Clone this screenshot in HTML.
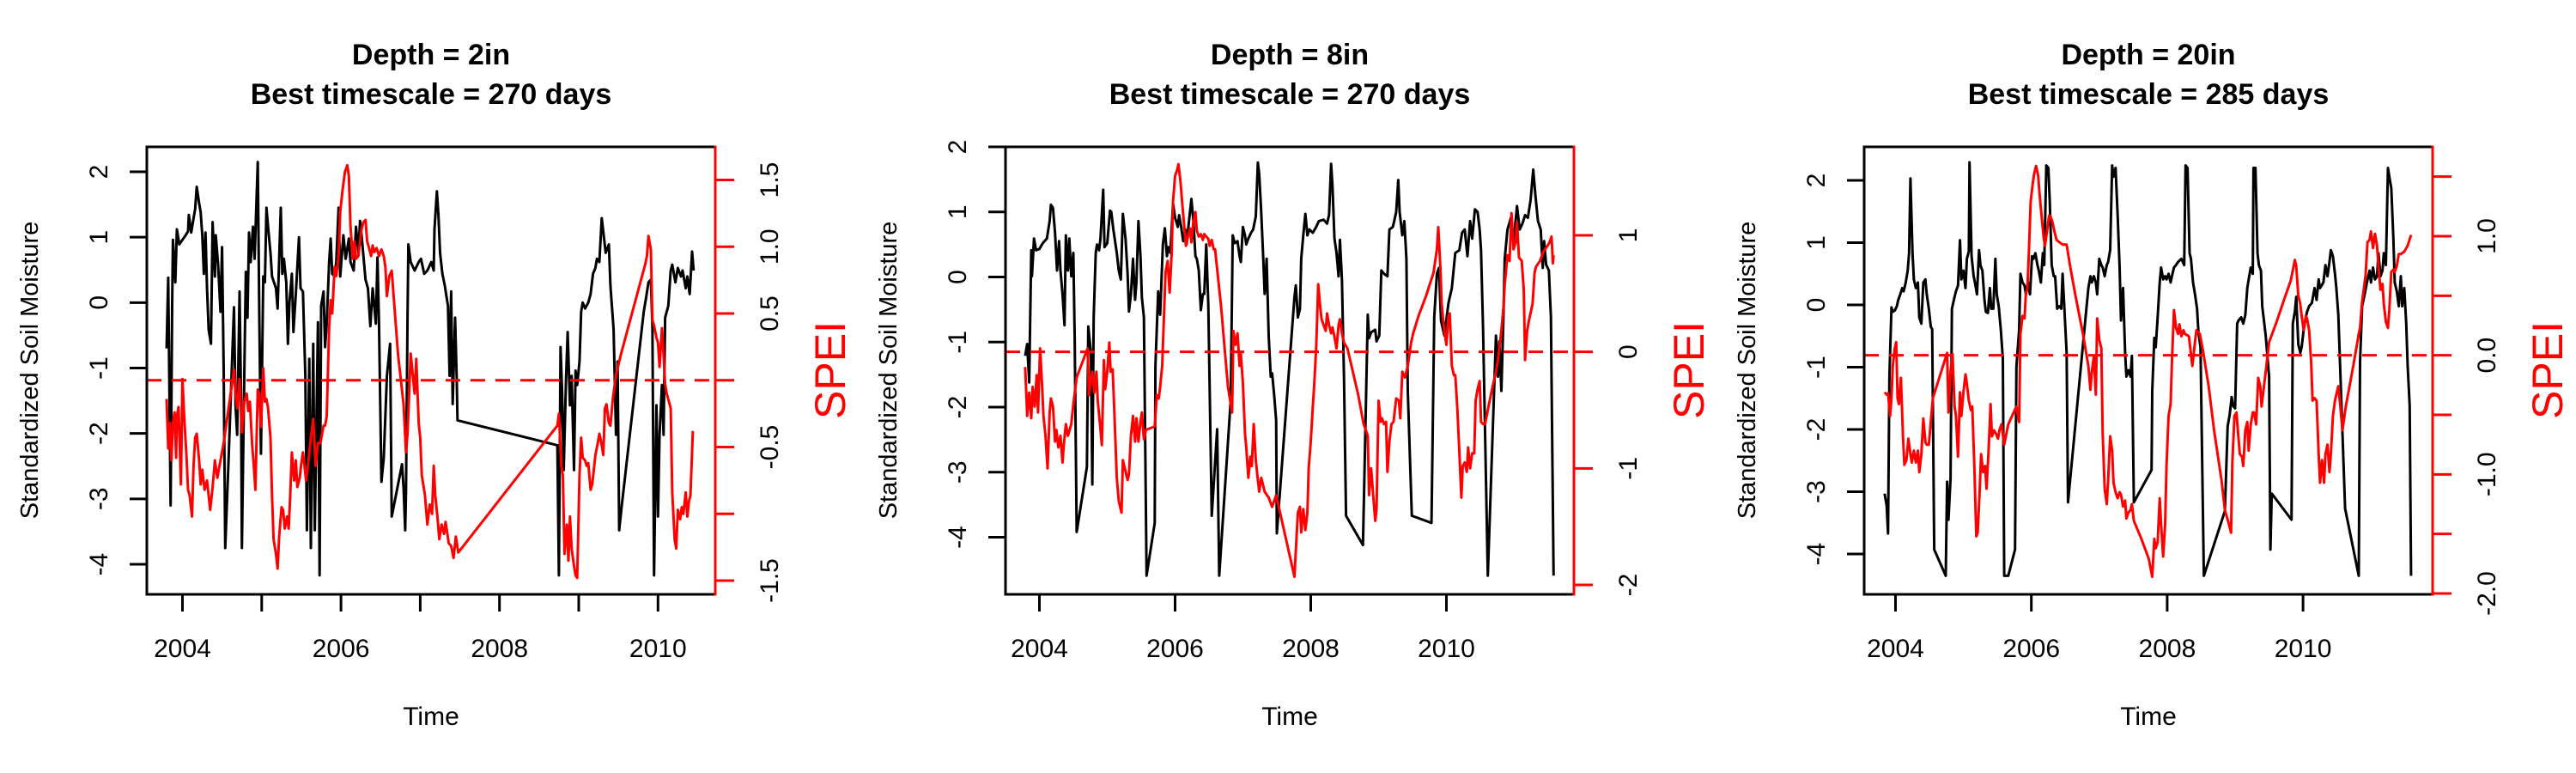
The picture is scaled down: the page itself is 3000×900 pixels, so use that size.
<!DOCTYPE html>
<html><head><meta charset="utf-8">
<style>
html,body{margin:0;padding:0;background:#fff;}
svg{display:block;}
text{font-family:"Liberation Sans",Arial,sans-serif;}
</style></head>
<body>
<svg id="chart" xmlns="http://www.w3.org/2000/svg" width="3000" height="900" viewBox="0 0 3000 900">
<rect x="0" y="0" width="3000" height="900" fill="#fff"/>
</svg>
<script>
// ---------- Data (decimal year, value) ----------
const panelTitles = ["Depth = 2in", "Depth = 8in", "Depth = 20in"];
const panelTimescales = ["Best timescale = 270 days", "Best timescale = 270 days", "Best timescale = 285 days"];
const soilTicks = [-4, -3, -2, -1, 0, 1, 2];
const yearTickLabels = [2004, 2006, 2008, 2010];
const yearTicksP1 = [2004, 2005, 2006, 2007, 2008, 2009, 2010];
const yearTicksP23 = [2004, 2006, 2008, 2010];
const speiTicksP1 = [-1.5, -1, -0.5, 0, 0.5, 1, 1.5];
const speiLabelsP1 = [[-1.5,"-1.5"],[-0.5,"-0.5"],[0.5,"0.5"],[1,"1.0"],[1.5,"1.5"]];
const speiTicksP2 = [-2, -1, 0, 1];
const speiLabelsP2 = [[-2,"-2"],[-1,"-1"],[0,"0"],[1,"1"]];
const speiTicksP3 = [-2, -1.5, -1, -0.5, 0, 0.5, 1, 1.5];
const speiLabelsP3 = [[-2,"-2.0"],[-1,"-1.0"],[0,"0.0"],[1,"1.0"]];

const soil2in = [[2003.80,-0.70],[2003.82,0.38],[2003.85,-3.10],[2003.87,-0.05],[2003.88,0.96],[2003.91,0.31],[2003.93,1.12],[2003.96,0.89],[2004.00,0.96],[2004.04,1.03],[2004.07,1.09],[2004.08,1.34],[2004.11,1.07],[2004.14,1.29],[2004.16,1.43],[2004.18,1.77],[2004.21,1.52],[2004.23,1.38],[2004.25,1.03],[2004.27,0.44],[2004.29,1.07],[2004.31,0.22],[2004.33,-0.41],[2004.36,-0.63],[2004.38,1.23],[2004.41,0.40],[2004.42,1.03],[2004.45,0.58],[2004.48,-0.14],[2004.50,0.85],[2004.52,-1.04],[2004.54,-3.75],[2004.58,-2.47],[2004.65,-0.07],[2004.67,-1.57],[2004.69,-2.02],[2004.72,0.17],[2004.74,-1.57],[2004.75,-3.75],[2004.78,-1.12],[2004.80,0.47],[2004.82,-0.23],[2004.84,1.07],[2004.86,0.62],[2004.89,1.16],[2004.91,0.67],[2004.95,2.15],[2004.97,-0.23],[2004.99,-2.31],[2005.02,0.40],[2005.04,0.31],[2005.06,1.45],[2005.08,1.16],[2005.11,0.76],[2005.13,0.40],[2005.18,0.22],[2005.20,-0.09],[2005.24,1.45],[2005.26,0.44],[2005.28,0.67],[2005.31,0.31],[2005.33,-0.63],[2005.35,0.00],[2005.38,0.44],[2005.40,-0.45],[2005.43,0.13],[2005.47,1.00],[2005.49,0.22],[2005.52,0.17],[2005.55,-1.12],[2005.57,-3.48],[2005.60,-0.86],[2005.62,-3.75],[2005.65,-0.63],[2005.67,-3.48],[2005.71,-0.30],[2005.73,-4.17],[2005.75,-0.05],[2005.78,0.17],[2005.80,-0.68],[2005.82,-0.32],[2005.85,0.62],[2005.87,0.98],[2005.89,0.44],[2005.92,0.40],[2005.94,0.62],[2005.97,1.45],[2005.99,0.40],[2006.03,1.03],[2006.06,0.67],[2006.10,0.98],[2006.12,0.62],[2006.16,0.49],[2006.19,1.16],[2006.22,0.76],[2006.24,1.25],[2006.26,1.03],[2006.28,0.76],[2006.31,0.35],[2006.34,0.22],[2006.37,-0.36],[2006.40,0.22],[2006.44,-0.32],[2006.46,0.69],[2006.48,-0.32],[2006.51,-2.74],[2006.54,-2.38],[2006.58,-1.12],[2006.62,-0.63],[2006.64,-3.27],[2006.77,-2.47],[2006.79,-2.83],[2006.81,-3.48],[2006.82,-2.92],[2006.84,-0.23],[2006.85,0.89],[2006.88,0.62],[2006.93,0.49],[2006.98,0.62],[2007.01,0.67],[2007.05,0.44],[2007.09,0.49],[2007.14,0.62],[2007.17,0.49],[2007.18,1.12],[2007.21,1.70],[2007.23,1.34],[2007.25,0.76],[2007.28,0.44],[2007.31,0.26],[2007.35,-0.05],[2007.37,-1.12],[2007.39,0.17],[2007.41,-1.55],[2007.44,-0.23],[2007.46,-1.17],[2007.47,-1.80],[2008.73,-2.18],[2008.75,-4.17],[2008.77,-0.68],[2008.79,-1.35],[2008.81,-2.56],[2008.84,-1.17],[2008.86,-0.45],[2008.89,-1.57],[2008.91,-1.12],[2008.94,-2.56],[2008.96,-1.04],[2008.98,-1.26],[2009.01,-0.90],[2009.03,-0.14],[2009.05,0.00],[2009.08,-0.09],[2009.12,0.00],[2009.15,0.13],[2009.18,0.44],[2009.21,0.53],[2009.23,0.67],[2009.26,0.62],[2009.29,1.29],[2009.32,0.98],[2009.34,0.76],[2009.38,0.89],[2009.40,0.26],[2009.44,-0.41],[2009.47,-2.02],[2009.49,-0.90],[2009.51,-3.48],[2009.54,-3.14],[2009.82,-0.14],[2009.85,0.08],[2009.88,0.31],[2009.91,0.35],[2009.93,-0.36],[2009.95,-4.17],[2009.98,-1.57],[2010.00,-3.27],[2010.02,-2.02],[2010.05,-1.26],[2010.07,-2.02],[2010.09,-0.23],[2010.13,-0.05],[2010.16,0.49],[2010.18,0.58],[2010.22,0.31],[2010.25,0.53],[2010.29,0.40],[2010.31,0.49],[2010.35,0.22],[2010.37,0.40],[2010.40,0.13],[2010.43,0.78],[2010.45,0.49]];

const spei2in = [[2003.80,-0.14],[2003.82,-0.51],[2003.84,-0.32],[2003.86,-0.60],[2003.88,-0.32],[2003.90,-0.24],[2003.92,-0.58],[2003.93,-0.27],[2003.95,-0.20],[2003.98,-0.78],[2004.00,0.01],[2004.02,-0.25],[2004.05,-0.56],[2004.07,-0.82],[2004.09,-0.86],[2004.12,-1.02],[2004.14,-0.64],[2004.16,-0.43],[2004.18,-0.40],[2004.21,-0.60],[2004.23,-0.78],[2004.25,-0.67],[2004.28,-0.82],[2004.31,-0.75],[2004.35,-0.97],[2004.38,-0.80],[2004.41,-0.60],[2004.44,-0.73],[2004.48,-0.60],[2004.52,-0.47],[2004.65,0.08],[2004.67,-0.10],[2004.69,-0.21],[2004.72,0.01],[2004.75,-0.39],[2004.78,-0.16],[2004.81,-0.10],[2004.83,-0.23],[2004.85,-0.16],[2004.88,-0.49],[2004.90,-0.64],[2004.92,-0.82],[2004.95,-0.07],[2004.97,-0.10],[2004.99,-0.35],[2005.02,0.09],[2005.04,-0.16],[2005.06,-0.14],[2005.08,-0.21],[2005.11,-0.43],[2005.13,-0.86],[2005.15,-1.19],[2005.18,-1.30],[2005.20,-1.41],[2005.22,-1.17],[2005.25,-0.95],[2005.27,-0.97],[2005.29,-1.11],[2005.32,-1.02],[2005.34,-1.11],[2005.36,-0.86],[2005.38,-0.54],[2005.41,-0.75],[2005.43,-0.60],[2005.45,-0.80],[2005.48,-0.73],[2005.50,-0.62],[2005.52,-0.54],[2005.56,-0.75],[2005.59,-0.60],[2005.62,-0.43],[2005.65,-0.29],[2005.68,-0.64],[2005.71,-0.47],[2005.74,-0.47],[2005.78,-0.34],[2005.80,-0.34],[2005.82,-0.27],[2005.85,0.39],[2005.87,0.60],[2005.89,0.50],[2005.92,0.85],[2005.94,0.78],[2005.97,0.93],[2005.99,1.26],[2006.02,1.42],[2006.05,1.56],[2006.08,1.61],[2006.10,1.53],[2006.12,1.15],[2006.15,0.91],[2006.17,1.04],[2006.19,0.91],[2006.22,0.93],[2006.24,1.04],[2006.26,1.13],[2006.28,1.18],[2006.31,1.20],[2006.33,1.04],[2006.35,1.00],[2006.38,0.93],[2006.40,1.01],[2006.42,0.96],[2006.45,0.99],[2006.48,0.93],[2006.51,0.98],[2006.54,0.93],[2006.56,0.85],[2006.58,0.63],[2006.61,0.78],[2006.64,0.82],[2006.72,0.19],[2006.79,-0.18],[2006.82,-0.54],[2006.84,-0.40],[2006.86,-0.10],[2006.88,0.20],[2006.91,0.01],[2006.93,-0.10],[2006.95,0.16],[2006.98,-0.32],[2007.00,-0.43],[2007.02,-0.71],[2007.06,-0.86],[2007.09,-1.08],[2007.12,-0.93],[2007.15,-1.00],[2007.17,-0.64],[2007.19,-0.86],[2007.22,-1.04],[2007.24,-1.19],[2007.27,-1.08],[2007.30,-1.15],[2007.32,-1.06],[2007.36,-1.22],[2007.39,-1.24],[2007.42,-1.33],[2007.45,-1.17],[2007.48,-1.29],[2008.73,-0.34],[2008.75,-0.25],[2008.78,-0.64],[2008.80,-0.71],[2008.82,-1.30],[2008.85,-1.08],[2008.87,-1.35],[2008.89,-1.02],[2008.91,-1.26],[2008.94,-1.39],[2008.96,-1.46],[2008.98,-1.48],[2009.01,-0.71],[2009.03,-0.43],[2009.05,-0.58],[2009.08,-0.60],[2009.10,-0.64],[2009.12,-0.62],[2009.15,-0.82],[2009.17,-0.78],[2009.21,-0.56],[2009.24,-0.47],[2009.26,-0.40],[2009.28,-0.45],[2009.31,-0.56],[2009.33,-0.21],[2009.35,-0.18],[2009.38,-0.32],[2009.40,-0.34],[2009.43,-0.14],[2009.47,0.04],[2009.51,0.14],[2009.54,0.21],[2009.84,0.87],[2009.86,0.93],[2009.88,1.08],[2009.91,0.98],[2009.93,0.45],[2009.95,0.41],[2009.98,0.32],[2010.00,0.28],[2010.02,0.10],[2010.05,0.39],[2010.07,0.19],[2010.09,-0.03],[2010.11,-0.10],[2010.16,-0.21],[2010.18,-0.84],[2010.21,-1.19],[2010.23,-1.26],[2010.25,-0.97],[2010.28,-1.04],[2010.30,-0.95],[2010.32,-1.00],[2010.35,-0.84],[2010.37,-1.02],[2010.39,-0.91],[2010.41,-0.86],[2010.44,-0.38]];

const soil8in = [[2003.79,-1.21],[2003.82,-1.03],[2003.85,-1.62],[2003.88,0.41],[2003.89,0.01],[2003.92,0.59],[2003.95,0.41],[2004.00,0.43],[2004.05,0.52],[2004.11,0.59],[2004.15,0.86],[2004.17,1.11],[2004.20,1.06],[2004.23,0.68],[2004.26,0.10],[2004.29,0.55],[2004.31,0.10],[2004.34,-0.26],[2004.37,-0.74],[2004.39,0.64],[2004.42,0.10],[2004.44,0.59],[2004.47,0.01],[2004.50,0.37],[2004.52,-0.96],[2004.55,-3.92],[2004.70,-2.92],[2004.72,-0.76],[2004.76,-1.17],[2004.78,-3.19],[2004.80,-0.62],[2004.83,0.37],[2004.85,0.50],[2004.88,0.41],[2004.90,0.59],[2004.94,1.34],[2004.96,0.46],[2005.00,0.52],[2005.04,1.02],[2005.06,1.00],[2005.09,0.73],[2005.14,0.37],[2005.17,0.10],[2005.20,-0.04],[2005.23,0.97],[2005.27,0.59],[2005.30,0.05],[2005.32,-0.53],[2005.35,-0.26],[2005.38,0.28],[2005.41,-0.35],[2005.43,-0.08],[2005.46,0.86],[2005.49,0.32],[2005.51,-0.31],[2005.54,-0.62],[2005.58,-4.59],[2005.70,-3.78],[2005.71,-1.37],[2005.75,-0.22],[2005.78,-0.58],[2005.82,0.50],[2005.85,0.75],[2005.88,0.32],[2005.90,0.46],[2005.93,0.37],[2005.97,1.13],[2006.00,0.91],[2006.04,0.77],[2006.06,0.95],[2006.09,0.77],[2006.12,0.55],[2006.15,0.73],[2006.17,0.50],[2006.21,0.91],[2006.24,1.20],[2006.27,0.86],[2006.30,0.32],[2006.32,0.28],[2006.35,0.10],[2006.38,-0.51],[2006.41,-0.26],[2006.43,-0.26],[2006.46,0.50],[2006.49,-0.44],[2006.54,-3.67],[2006.62,-2.34],[2006.65,-4.59],[2006.82,-1.89],[2006.85,0.64],[2006.88,0.52],[2006.92,0.55],[2006.95,0.32],[2006.97,0.23],[2007.00,0.77],[2007.03,0.64],[2007.05,0.50],[2007.08,0.59],[2007.12,0.68],[2007.15,0.73],[2007.19,0.93],[2007.22,1.76],[2007.24,1.58],[2007.27,1.00],[2007.30,0.28],[2007.32,-0.26],[2007.35,0.28],[2007.38,-0.90],[2007.41,-1.53],[2007.43,-1.48],[2007.46,-1.80],[2007.49,-2.20],[2007.50,-3.94],[2007.76,-0.31],[2007.78,-0.13],[2007.81,-0.62],[2007.84,-0.49],[2007.86,0.28],[2007.89,0.64],[2007.92,0.97],[2007.95,0.64],[2007.98,0.73],[2008.03,0.68],[2008.08,0.77],[2008.12,0.86],[2008.19,0.88],[2008.24,0.82],[2008.27,0.95],[2008.30,1.74],[2008.32,1.40],[2008.35,0.59],[2008.38,0.37],[2008.41,0.01],[2008.43,0.57],[2008.46,-0.04],[2008.49,-1.53],[2008.52,-3.67],[2008.77,-4.12],[2008.84,-0.58],[2008.86,-0.94],[2008.89,-0.85],[2008.95,-0.81],[2008.97,-0.99],[2009.01,-0.90],[2009.04,0.10],[2009.08,0.05],[2009.13,0.01],[2009.16,0.73],[2009.21,0.77],[2009.23,0.86],[2009.26,1.00],[2009.29,1.49],[2009.31,1.00],[2009.35,0.64],[2009.38,0.86],[2009.41,0.28],[2009.43,-1.75],[2009.49,-3.67],[2009.78,-3.78],[2009.82,-0.62],[2009.86,0.05],[2009.89,0.14],[2009.92,-0.67],[2009.97,-0.90],[2010.03,-0.40],[2010.08,-0.17],[2010.13,0.37],[2010.19,0.41],[2010.23,0.68],[2010.27,0.73],[2010.31,0.32],[2010.35,0.86],[2010.38,0.59],[2010.42,1.04],[2010.46,1.00],[2010.49,0.73],[2010.51,0.41],[2010.54,-0.81],[2010.61,-4.59],[2010.73,-0.90],[2010.76,-1.53],[2010.78,-0.99],[2010.81,-1.75],[2010.84,-0.62],[2010.86,0.28],[2010.90,0.73],[2010.95,0.91],[2010.99,0.55],[2011.04,1.09],[2011.08,0.73],[2011.12,0.82],[2011.16,0.95],[2011.20,0.91],[2011.24,1.18],[2011.28,1.65],[2011.31,1.27],[2011.35,0.86],[2011.39,0.73],[2011.42,0.14],[2011.44,0.55],[2011.47,0.19],[2011.51,0.10],[2011.54,-0.62],[2011.58,-4.59]];

const spei8in = [[2003.79,-0.13],[2003.82,-0.55],[2003.85,-0.35],[2003.88,-0.57],[2003.90,-0.30],[2003.93,-0.47],[2003.96,-0.20],[2003.98,-0.52],[2004.01,0.03],[2004.04,-0.30],[2004.06,-0.55],[2004.09,-0.72],[2004.12,-1.00],[2004.15,-0.52],[2004.17,-0.40],[2004.20,-0.47],[2004.23,-0.77],[2004.25,-0.67],[2004.28,-0.82],[2004.31,-0.72],[2004.34,-0.95],[2004.36,-0.80],[2004.39,-0.62],[2004.42,-0.72],[2004.47,-0.62],[2004.50,-0.45],[2004.55,-0.22],[2004.71,0.03],[2004.73,-0.37],[2004.76,-0.25],[2004.78,-0.17],[2004.81,-0.35],[2004.84,-0.17],[2004.86,-0.42],[2004.89,-0.60],[2004.92,-0.80],[2004.95,-0.07],[2004.97,-0.32],[2005.00,-0.17],[2005.03,0.08],[2005.05,-0.17],[2005.08,-0.15],[2005.11,-0.60],[2005.14,-1.08],[2005.17,-1.28],[2005.21,-1.38],[2005.23,-0.93],[2005.26,-1.00],[2005.30,-1.10],[2005.32,-1.05],[2005.35,-0.72],[2005.38,-0.55],[2005.41,-0.77],[2005.43,-0.57],[2005.46,-0.77],[2005.49,-0.60],[2005.51,-0.52],[2005.54,-0.75],[2005.57,-0.67],[2005.70,-0.64],[2005.73,-0.37],[2005.76,-0.40],[2005.78,-0.30],[2005.81,-0.12],[2005.84,0.38],[2005.86,0.68],[2005.89,0.78],[2005.92,0.51],[2005.95,0.86],[2005.97,1.29],[2006.00,1.51],[2006.03,1.56],[2006.05,1.61],[2006.08,1.46],[2006.11,1.24],[2006.14,1.04],[2006.16,0.91],[2006.19,0.99],[2006.22,1.06],[2006.24,0.94],[2006.27,1.12],[2006.30,1.20],[2006.32,1.04],[2006.35,0.99],[2006.38,1.01],[2006.41,0.96],[2006.43,1.01],[2006.46,0.99],[2006.49,0.97],[2006.51,0.91],[2006.54,0.96],[2006.57,0.88],[2006.59,0.88],[2006.62,0.71],[2006.68,0.38],[2006.73,0.03],[2006.78,-0.30],[2006.84,-0.52],[2006.86,0.18],[2006.89,0.06],[2006.92,0.16],[2006.95,-0.12],[2006.97,-0.02],[2007.00,-0.27],[2007.03,-0.70],[2007.05,-0.82],[2007.08,-1.08],[2007.11,-0.90],[2007.13,-0.98],[2007.16,-0.62],[2007.19,-0.93],[2007.22,-1.10],[2007.24,-1.20],[2007.27,-1.08],[2007.30,-1.15],[2007.32,-1.20],[2007.38,-1.25],[2007.43,-1.33],[2007.49,-1.23],[2007.76,-1.93],[2007.81,-1.38],[2007.84,-1.33],[2007.86,-1.55],[2007.89,-1.35],[2007.92,-1.53],[2007.95,-1.38],[2007.97,-1.00],[2008.00,-0.77],[2008.03,-0.47],[2008.05,-0.30],[2008.08,0.03],[2008.11,0.58],[2008.14,0.38],[2008.16,0.28],[2008.19,0.23],[2008.22,0.18],[2008.24,0.33],[2008.27,0.23],[2008.30,0.16],[2008.32,0.21],[2008.35,0.13],[2008.38,0.03],[2008.41,0.23],[2008.43,0.28],[2008.46,0.16],[2008.49,0.08],[2008.54,0.03],[2008.62,-0.17],[2008.70,-0.37],[2008.78,-0.62],[2008.84,-0.72],[2008.86,-1.23],[2008.89,-1.00],[2008.92,-1.23],[2008.95,-1.45],[2008.97,-1.35],[2009.00,-0.42],[2009.03,-0.60],[2009.05,-0.57],[2009.08,-0.62],[2009.11,-0.60],[2009.13,-1.03],[2009.16,-0.77],[2009.19,-0.62],[2009.22,-0.60],[2009.26,-0.40],[2009.30,-0.42],[2009.32,-0.57],[2009.35,-0.17],[2009.39,-0.22],[2009.43,-0.12],[2009.48,0.08],[2009.51,0.16],[2009.59,0.31],[2009.70,0.48],[2009.81,0.68],[2009.86,0.88],[2009.88,1.07],[2009.91,0.73],[2009.93,0.41],[2009.95,0.28],[2009.97,0.18],[2010.00,0.06],[2010.03,0.31],[2010.05,0.33],[2010.08,-0.12],[2010.11,-0.20],[2010.13,-0.20],[2010.16,-0.47],[2010.19,-0.85],[2010.22,-1.25],[2010.24,-0.98],[2010.27,-0.95],[2010.30,-1.03],[2010.32,-0.82],[2010.35,-1.00],[2010.38,-0.87],[2010.41,-0.87],[2010.43,-0.42],[2010.46,-0.32],[2010.49,-0.25],[2010.51,-0.60],[2010.54,-0.62],[2010.57,-0.62],[2010.62,-0.47],[2010.68,-0.30],[2010.73,-0.17],[2010.76,-0.07],[2010.78,0.03],[2010.81,0.18],[2010.84,0.38],[2010.86,0.58],[2010.90,0.83],[2010.93,0.78],[2010.96,1.19],[2010.99,0.88],[2011.02,0.94],[2011.04,1.11],[2011.07,0.81],[2011.11,0.78],[2011.14,0.53],[2011.16,-0.07],[2011.19,0.18],[2011.22,0.28],[2011.27,0.41],[2011.30,0.68],[2011.32,0.73],[2011.38,0.78],[2011.43,0.86],[2011.49,0.91],[2011.52,0.94],[2011.55,0.99],[2011.57,0.76],[2011.58,0.83]];

const soil20in = [[2003.84,-3.03],[2003.87,-3.22],[2003.89,-3.67],[2003.91,-1.15],[2003.94,-0.04],[2003.96,-0.11],[2003.99,-0.09],[2004.02,-0.02],[2004.04,0.08],[2004.07,0.17],[2004.10,0.27],[2004.12,0.22],[2004.15,0.36],[2004.18,0.55],[2004.20,0.83],[2004.22,2.03],[2004.25,0.83],[2004.27,0.41],[2004.30,0.27],[2004.33,0.36],[2004.35,-0.20],[2004.38,-0.30],[2004.41,0.36],[2004.44,0.41],[2004.46,0.17],[2004.49,-0.06],[2004.52,-0.35],[2004.54,-0.39],[2004.57,-3.93],[2004.74,-4.35],[2004.76,-2.84],[2004.78,-3.45],[2004.81,-2.79],[2004.83,-0.06],[2004.87,0.13],[2004.89,0.22],[2004.92,0.31],[2004.95,1.04],[2004.97,0.41],[2005.00,0.55],[2005.03,0.27],[2005.05,0.74],[2005.08,0.86],[2005.09,2.29],[2005.12,0.78],[2005.15,0.46],[2005.17,0.36],[2005.20,0.17],[2005.23,0.88],[2005.25,0.64],[2005.28,0.55],[2005.31,0.08],[2005.33,-0.11],[2005.36,-0.13],[2005.39,0.27],[2005.41,-0.06],[2005.44,-0.06],[2005.47,0.74],[2005.49,0.17],[2005.52,-0.02],[2005.55,-0.39],[2005.58,-0.86],[2005.60,-4.35],[2005.66,-4.35],[2005.76,-3.93],[2005.78,-1.00],[2005.82,-0.39],[2005.84,0.50],[2005.87,0.36],[2005.90,0.31],[2005.92,0.17],[2005.95,0.36],[2005.98,0.17],[2006.01,0.78],[2006.03,0.74],[2006.06,0.83],[2006.09,0.64],[2006.11,0.55],[2006.14,0.36],[2006.17,0.83],[2006.19,0.64],[2006.22,2.24],[2006.25,2.20],[2006.27,1.68],[2006.30,0.64],[2006.33,0.46],[2006.35,0.46],[2006.38,-0.06],[2006.41,-0.02],[2006.44,-0.06],[2006.46,0.50],[2006.52,-0.77],[2006.54,-3.17],[2006.81,-0.06],[2006.84,0.27],[2006.87,0.46],[2006.89,0.36],[2006.92,0.46],[2006.95,0.36],[2006.97,0.17],[2007.00,0.74],[2007.03,0.64],[2007.05,0.60],[2007.08,0.46],[2007.11,0.64],[2007.13,0.69],[2007.16,0.88],[2007.19,2.24],[2007.21,2.06],[2007.24,2.20],[2007.27,1.44],[2007.30,0.60],[2007.32,-0.25],[2007.35,0.27],[2007.38,-0.77],[2007.40,-1.15],[2007.43,-1.05],[2007.46,-1.15],[2007.48,-0.82],[2007.51,-3.17],[2007.77,-2.65],[2007.78,-1.38],[2007.81,-0.53],[2007.83,-0.68],[2007.86,-0.20],[2007.89,0.36],[2007.91,0.60],[2007.94,0.41],[2007.97,0.46],[2007.99,0.41],[2008.02,0.50],[2008.05,0.36],[2008.07,0.46],[2008.10,0.60],[2008.13,0.64],[2008.16,0.69],[2008.21,0.74],[2008.25,0.64],[2008.27,2.24],[2008.30,2.20],[2008.33,0.83],[2008.35,0.74],[2008.38,0.36],[2008.41,0.17],[2008.44,-0.06],[2008.46,-0.44],[2008.49,-0.68],[2008.54,-4.35],[2008.85,-3.31],[2008.89,-1.95],[2008.92,-1.76],[2008.95,-1.48],[2008.97,-1.62],[2009.00,-1.66],[2009.03,-0.30],[2009.05,-0.25],[2009.09,-0.20],[2009.12,-0.30],[2009.15,-0.16],[2009.18,0.27],[2009.20,0.41],[2009.23,0.60],[2009.26,0.50],[2009.27,2.20],[2009.30,2.20],[2009.33,0.83],[2009.35,0.64],[2009.38,0.55],[2009.40,-0.02],[2009.45,-0.49],[2009.50,-1.15],[2009.52,-3.93],[2009.54,-3.03],[2009.83,-3.45],[2009.85,-0.30],[2009.88,-0.11],[2009.90,0.13],[2009.93,-0.63],[2009.96,-0.77],[2009.98,-0.68],[2010.01,-0.39],[2010.04,-0.20],[2010.06,-0.11],[2010.09,-0.02],[2010.13,0.03],[2010.17,0.27],[2010.20,0.08],[2010.23,0.41],[2010.25,0.27],[2010.30,0.36],[2010.33,0.64],[2010.36,0.46],[2010.39,0.69],[2010.41,0.88],[2010.44,0.78],[2010.47,0.50],[2010.49,0.27],[2010.52,-0.16],[2010.62,-3.27],[2010.82,-4.35],[2010.84,-0.91],[2010.87,-0.02],[2010.90,0.13],[2010.94,0.36],[2010.98,0.55],[2011.00,0.36],[2011.03,0.60],[2011.06,0.41],[2011.09,0.46],[2011.11,0.83],[2011.14,0.46],[2011.17,0.55],[2011.19,0.83],[2011.22,0.64],[2011.25,2.20],[2011.27,2.06],[2011.30,1.87],[2011.33,1.07],[2011.35,0.36],[2011.38,0.22],[2011.41,-0.02],[2011.44,0.46],[2011.46,-0.02],[2011.49,0.27],[2011.52,-0.30],[2011.54,-0.96],[2011.57,-1.62],[2011.59,-4.35]];

const spei20in = [[2003.84,-0.31],[2003.87,-0.33],[2003.89,-0.32],[2003.92,-0.51],[2003.94,-0.36],[2003.96,-0.09],[2003.99,0.06],[2004.01,0.11],[2004.03,-0.36],[2004.05,-0.41],[2004.08,-0.19],[2004.11,-0.68],[2004.13,-0.92],[2004.16,-0.88],[2004.19,-0.70],[2004.22,-0.83],[2004.24,-0.90],[2004.27,-0.80],[2004.30,-0.90],[2004.33,-0.80],[2004.35,-0.98],[2004.38,-0.83],[2004.41,-0.53],[2004.44,-0.73],[2004.46,-0.75],[2004.49,-0.75],[2004.52,-0.56],[2004.55,-0.36],[2004.76,0.02],[2004.78,-0.48],[2004.81,-0.14],[2004.84,0.01],[2004.87,-0.43],[2004.89,-0.51],[2004.92,-0.85],[2004.95,-0.31],[2004.97,-0.51],[2005.00,-0.31],[2005.03,-0.16],[2005.05,-0.24],[2005.08,-0.38],[2005.11,-0.46],[2005.13,-0.43],[2005.16,-0.93],[2005.19,-1.52],[2005.21,-1.49],[2005.24,-1.12],[2005.26,-0.83],[2005.29,-0.98],[2005.32,-0.93],[2005.34,-1.12],[2005.37,-0.80],[2005.40,-0.41],[2005.42,-0.68],[2005.45,-0.63],[2005.48,-0.66],[2005.51,-0.70],[2005.53,-0.63],[2005.56,-0.58],[2005.60,-0.75],[2005.66,-0.58],[2005.74,-0.48],[2005.78,-0.43],[2005.82,-0.56],[2005.84,0.18],[2005.87,0.33],[2005.90,0.31],[2005.92,0.53],[2005.94,0.55],[2005.96,0.80],[2005.99,1.29],[2006.02,1.44],[2006.04,1.52],[2006.07,1.59],[2006.10,1.51],[2006.12,1.36],[2006.15,1.17],[2006.18,1.00],[2006.20,0.92],[2006.23,1.04],[2006.26,1.17],[2006.28,1.17],[2006.31,1.12],[2006.34,1.04],[2006.37,0.97],[2006.41,0.95],[2006.46,0.93],[2006.52,0.93],[2006.57,0.75],[2006.65,0.50],[2006.76,0.18],[2006.84,-0.09],[2006.87,-0.29],[2006.89,-0.14],[2006.92,-0.01],[2006.95,-0.33],[2006.97,0.31],[2007.00,0.13],[2007.03,0.06],[2007.05,-0.66],[2007.08,-1.12],[2007.11,-1.25],[2007.13,-1.05],[2007.16,-0.68],[2007.19,-0.80],[2007.21,-1.07],[2007.24,-1.15],[2007.27,-1.20],[2007.30,-1.15],[2007.32,-1.17],[2007.35,-1.27],[2007.38,-1.22],[2007.40,-1.37],[2007.43,-1.32],[2007.46,-1.30],[2007.48,-1.25],[2007.51,-1.39],[2007.62,-1.54],[2007.73,-1.71],[2007.78,-1.86],[2007.81,-1.54],[2007.83,-1.62],[2007.86,-1.57],[2007.89,-1.20],[2007.91,-1.42],[2007.94,-1.69],[2007.97,-1.42],[2007.99,-0.93],[2008.02,-0.51],[2008.05,-0.41],[2008.07,-0.06],[2008.10,0.38],[2008.13,0.23],[2008.16,0.18],[2008.18,0.26],[2008.21,0.16],[2008.24,0.21],[2008.26,0.18],[2008.32,0.16],[2008.34,0.06],[2008.37,-0.09],[2008.40,0.06],[2008.43,0.21],[2008.48,0.18],[2008.53,0.03],[2008.61,-0.26],[2008.69,-0.63],[2008.80,-1.05],[2008.85,-1.30],[2008.91,-1.42],[2008.94,-1.49],[2008.96,-0.90],[2008.99,-0.51],[2009.02,-0.48],[2009.04,-0.63],[2009.07,-0.83],[2009.10,-0.85],[2009.12,-0.93],[2009.15,-0.63],[2009.18,-0.56],[2009.20,-0.80],[2009.23,-0.58],[2009.26,-0.48],[2009.28,-0.48],[2009.31,-0.58],[2009.34,-0.19],[2009.37,-0.26],[2009.39,-0.43],[2009.45,-0.14],[2009.50,0.11],[2009.61,0.28],[2009.71,0.45],[2009.82,0.63],[2009.88,0.80],[2009.90,0.75],[2009.93,0.50],[2009.96,0.43],[2009.98,0.33],[2010.01,0.21],[2010.04,0.33],[2010.06,0.31],[2010.09,0.21],[2010.12,-0.06],[2010.14,-0.38],[2010.17,-0.36],[2010.20,-0.38],[2010.23,-0.83],[2010.25,-1.07],[2010.28,-0.88],[2010.31,-1.07],[2010.33,-0.83],[2010.36,-0.75],[2010.39,-0.98],[2010.41,-0.83],[2010.44,-0.51],[2010.47,-0.38],[2010.49,-0.33],[2010.52,-0.26],[2010.55,-0.43],[2010.58,-0.63],[2010.63,-0.43],[2010.74,-0.09],[2010.82,0.18],[2010.84,0.23],[2010.87,0.45],[2010.90,0.58],[2010.92,0.67],[2010.95,0.95],[2010.98,0.97],[2011.00,1.04],[2011.03,0.90],[2011.06,1.02],[2011.09,0.92],[2011.11,0.75],[2011.14,0.55],[2011.17,0.60],[2011.19,0.43],[2011.22,0.28],[2011.25,0.23],[2011.27,0.38],[2011.30,0.70],[2011.33,0.72],[2011.35,0.70],[2011.38,0.75],[2011.41,0.85],[2011.44,0.85],[2011.49,0.87],[2011.54,0.92],[2011.59,1.01]];

// ---------- Layout ----------
const NS = "http://www.w3.org/2000/svg";
const svg = document.getElementById("chart");
function mk(tag, attrs, parent) {
  const el = document.createElementNS(NS, tag);
  for (const k in attrs) el.setAttribute(k, attrs[k]);
  (parent || svg).appendChild(el);
  return el;
}
const BOX = {l: 171, r: 833, t: 171, b: 692};

const panels = [
  {ox: 0, x0: 212.5, xs: 92.3, yTop: 200, yBot: 657, sTop: [1.5, 209.5], sBot: [-1.5, 676],
   soil: soil2in, spei: spei2in, xt: yearTicksP1, st: speiTicksP1, sl: speiLabelsP1, key: "2in"},
  {ox: 1000, x0: 210.5, xs: 79.0, yTop: 171, yBot: 625.5, sTop: [1, 274], sBot: [-2, 681],
   soil: soil8in, spei: spei8in, xt: yearTicksP23, st: speiTicksP2, sl: speiLabelsP2, key: "8in"},
  {ox: 2000, x0: 207.5, xs: 79.1, yTop: 210, yBot: 645, sTop: [1, 275], sBot: [-2, 691],
   soil: soil20in, spei: spei20in, xt: yearTicksP23, st: speiTicksP3, sl: speiLabelsP3, key: "20in"}
];

panels.forEach((p, i) => {
  const g = mk("g", {});
  
  
  const ox = p.ox;
  const X = yr => ox + p.x0 + (yr - 2004) * p.xs;
  const Y = v => p.yTop + (2 - v) * (p.yBot - p.yTop) / 6;
  const sScale = (p.sBot[1] - p.sTop[1]) / (p.sTop[0] - p.sBot[0]);
  const YS = s => p.sTop[1] + (p.sTop[0] - s) * sScale;

  // titles
  const t1 = mk("text", {x: ox + 502, y: 75, "text-anchor": "middle", "font-size": 34, "font-weight": "bold", fill: "#000"}, g);
  t1.textContent = panelTitles[i];
  
  
  const t2 = mk("text", {x: ox + 502, y: 121, "text-anchor": "middle", "font-size": 34, "font-weight": "bold", fill: "#000"}, g);
  t2.textContent = panelTimescales[i];
  
  

  // series
  const blk = mk("polyline", {points: p.soil.map(d => X(d[0]).toFixed(1) + "," + Y(d[1]).toFixed(1)).join(" "),
    fill: "none", stroke: "#000", "stroke-width": 3, "stroke-linejoin": "round"}, g);
  
  
  const red = mk("polyline", {points: p.spei.map(d => X(d[0]).toFixed(1) + "," + YS(d[1]).toFixed(1)).join(" "),
    fill: "none", stroke: "#ff0000", "stroke-width": 3, "stroke-linejoin": "round"}, g);
  
  

  // zero line
  const z = mk("line", {x1: ox + BOX.l, x2: ox + BOX.r, y1: YS(0), y2: YS(0), stroke: "#ff0000", "stroke-width": 3, "stroke-dasharray": "17,12"}, g);
  
  

  // box
  const box = mk("rect", {x: ox + BOX.l, y: BOX.t, width: BOX.r - BOX.l, height: BOX.b - BOX.t, fill: "none", stroke: "#000", "stroke-width": 3}, g);
  
  

  // left axis
  const la = mk("g", {}, g);
  
  
  soilTicks.forEach(v => {
    mk("line", {x1: ox + BOX.l - 20, x2: ox + BOX.l, y1: Y(v), y2: Y(v), stroke: "#000", "stroke-width": 3}, la);
    const tx = mk("text", {x: 0, y: 0, transform: `translate(${ox + 125},${Y(v)}) rotate(-90)`, "text-anchor": "middle", "font-size": 30, fill: "#000"}, la);
    tx.textContent = String(v);
    
    
  });
  const yt = mk("text", {x: 0, y: 0, transform: `translate(${ox + 44},431) rotate(-90)`, "text-anchor": "middle", "font-size": 29, fill: "#000"}, g);
  yt.textContent = "Standardized Soil Moisture";
  
  

  // bottom axis
  const ba = mk("g", {}, g);
  
  
  p.xt.forEach(yr => {
    mk("line", {x1: X(yr), x2: X(yr), y1: BOX.b, y2: BOX.b + 20, stroke: "#000", "stroke-width": 3}, ba);
  });
  yearTickLabels.forEach(yr => {
    const tx = mk("text", {x: X(yr), y: 765, "text-anchor": "middle", "font-size": 30, fill: "#000"}, ba);
    tx.textContent = String(yr);
    
    
  });
  const xt = mk("text", {x: ox + 502, y: 844, "text-anchor": "middle", "font-size": 30, fill: "#000"}, g);
  xt.textContent = "Time";
  
  

  // right axis
  const ra = mk("g", {}, g);
  
  
  mk("line", {x1: ox + BOX.r, x2: ox + BOX.r, y1: BOX.t - 1.5, y2: BOX.b + 1.5, stroke: "#ff0000", "stroke-width": 3}, ra);
  p.st.forEach(s => {
    mk("line", {x1: ox + BOX.r, x2: ox + BOX.r + 22, y1: YS(s), y2: YS(s), stroke: "#ff0000", "stroke-width": 3}, ra);
  });
  p.sl.forEach(l => {
    const tx = mk("text", {x: 0, y: 0, transform: `translate(${ox + 906},${YS(l[0])}) rotate(-90)`, "text-anchor": "middle", "font-size": 30, fill: "#000"}, ra);
    tx.textContent = l[1];
    
    
  });
  const st = mk("text", {x: 0, y: 0, transform: `translate(${ox + 984},431) rotate(-90)`, "text-anchor": "middle", "font-size": 50, fill: "#ff0000"}, g);
  st.textContent = "SPEI";
  
  
});
</script>
</body></html>
